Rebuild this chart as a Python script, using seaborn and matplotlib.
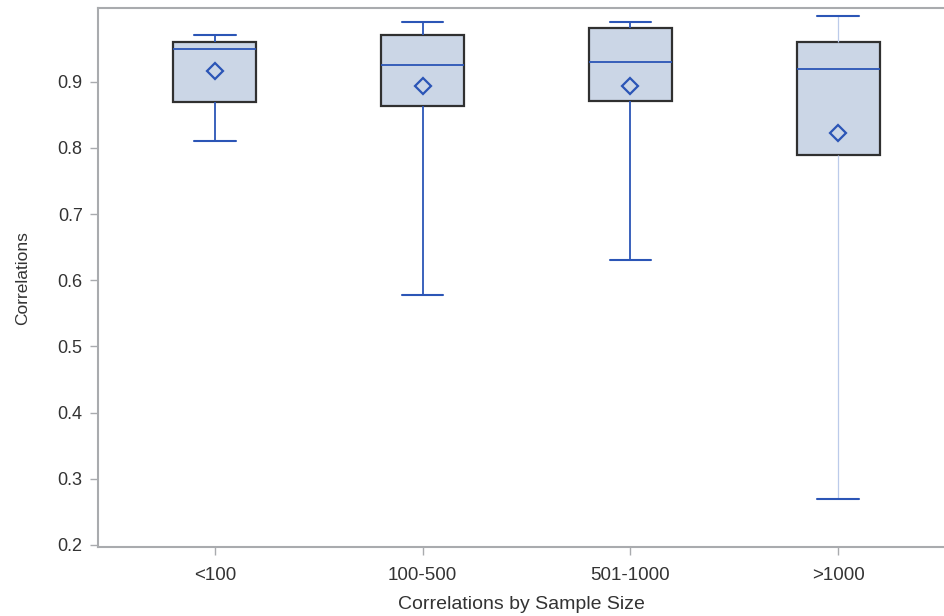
import pandas as pd
import matplotlib
matplotlib.use("Agg")
import matplotlib.pyplot as plt
import seaborn as sns

# values
groups = ["<100", "100-500", "501-1000", ">1000"]
whisker_low = [0.81, 0.578, 0.63, 0.27]
q1 = [0.870, 0.863, 0.871, 0.790]
median = [0.950, 0.925, 0.930, 0.920]
q3 = [0.960, 0.971, 0.981, 0.960]
whisker_high = [0.970, 0.990, 0.990, 1.000]
means = [0.917, 0.894, 0.894, 0.823]

# five numbers per group -> with whis=(0,100) the box uses them exactly
rows = []
for i, g in enumerate(groups):
    for v in [whisker_low[i], q1[i], median[i], q3[i], whisker_high[i]]:
        rows.append({"group": g, "value": v})
df = pd.DataFrame(rows)

sns.set_style("ticks")
plt.rcParams["font.family"] = ["Liberation Sans", "DejaVu Sans"]

blue = "#2B55B6"
fill = "#CBD6E6"
edge = "#303030"
spine = "#A9ABAE"

fig = plt.figure(figsize=(9.44, 6.16), dpi=100)
ax = fig.add_axes([98 / 944, 1 - 547.3 / 616, 1 - 98 / 944, (547.3 - 8.3) / 616])

sns.boxplot(data=df, x="group", y="value", order=groups, whis=(0, 100),
            width=0.4, ax=ax,
            boxprops=dict(facecolor=fill, edgecolor=edge, linewidth=1.6),
            whiskerprops=dict(color=blue, linewidth=1.3),
            capprops=dict(color=blue, linewidth=1.5),
            medianprops=dict(color=blue, linewidth=1.3))

# last group has a faint whisker line
box = ax.containers[0]
for w in box.whiskers[6:8]:
    w.set_color("#BCCBEA")
    w.set_linewidth(0.9)

sns.pointplot(x=groups, y=means, order=groups, linestyle="none", marker="D",
              color=blue, markersize=8, markerfacecolor="none",
              markeredgewidth=1.6, errorbar=None, ax=ax)

ax.set_xlim(-0.5625, 3.51)
ax.set_ylim(0.1965, 1.011)
ax.set_yticks([0.2, 0.3, 0.4, 0.5, 0.6, 0.7, 0.8, 0.9])
ax.set_yticklabels(["0.2", "0.3", "0.4", "0.5", "0.6", "0.7", "0.8", "0.9"])
ax.set_xticks(range(len(groups)))
ax.set_xticklabels(groups)

for s in ["left", "bottom", "top"]:
    ax.spines[s].set_color(spine)
    ax.spines[s].set_linewidth(1.5)
ax.spines["right"].set_visible(False)
ax.tick_params(axis="both", colors=spine, length=6, width=1,
               labelcolor="#333333")
ax.tick_params(axis="y", labelsize=13, pad=5)
ax.tick_params(axis="x", labelsize=13.5, pad=8)

ax.set_ylabel("Correlations", fontsize=12.5, color="#333333", labelpad=20)
ax.set_xlabel("Correlations by Sample Size", fontsize=14, color="#333333", labelpad=9)

fig.savefig("out.png", dpi=100)
